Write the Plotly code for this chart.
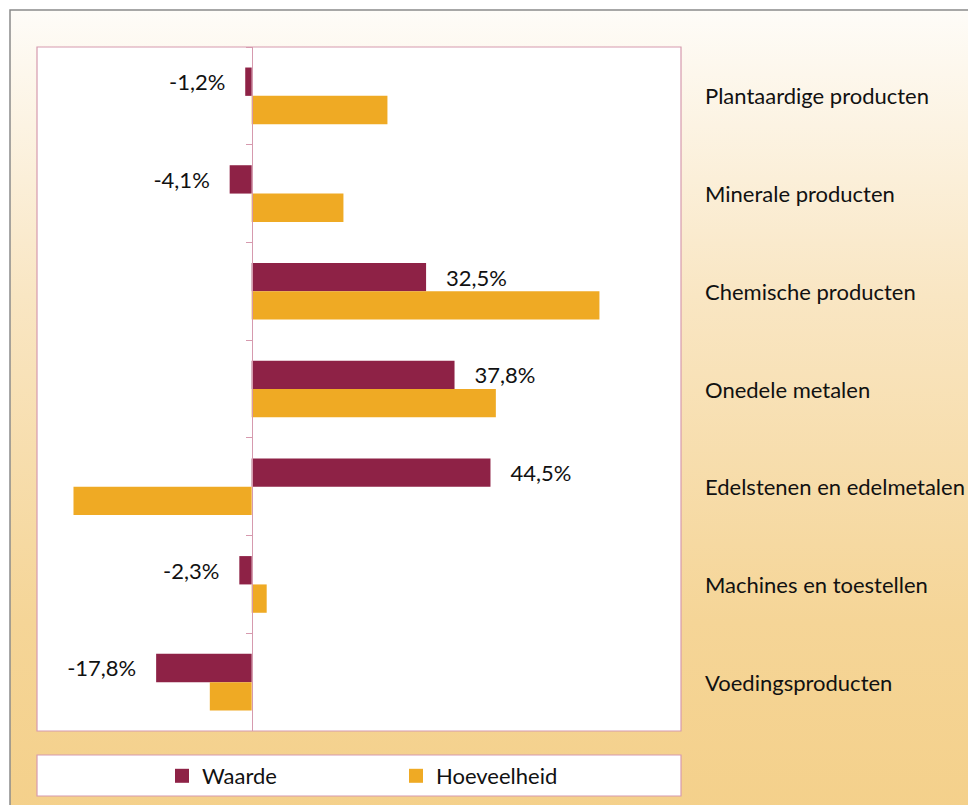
import base64
import plotly.graph_objects as go

categories = [
    "Plantaardige producten",
    "Minerale producten",
    "Chemische producten",
    "Onedele metalen",
    "Edelstenen en edelmetalen",
    "Machines en toestellen",
    "Voedingsproducten",
]
waarde = [-1.2, -4.1, 32.5, 37.8, 44.5, -2.3, -17.8]
hoeveelheid = [25.3, 17.1, 64.8, 45.5, -33.2, 2.8, -7.8]
series_names = ["Waarde", "Hoeveelheid"]

MAROON = "#8e2246"
ORANGE = "#efaa24"
PINK = "#d69aae"
FONT = "Lato"
FS = 22

# page offset (body margin) of the rendered figure
OFF = 8
W, H = 976, 805
# plot area in page pixels: x 37..681, y 47..731
ML = 37 - OFF
MT = 47 - OFF
MR = W - (681 - OFF)
MB = H - (731 - OFF)
PW, PH = W - ML - MR, H - MT - MB


def px_x(x):
    """page pixel x -> paper fraction"""
    return (x - OFF - ML) / PW


def px_y(y):
    """page pixel y -> paper fraction"""
    return (H - MB - (y - OFF)) / PH


pad = "\u00a0" * 3
labels = [(pad + f"{v:.1f}%" if v >= 0 else f"{v:.1f}%" + pad).replace(".", ",") for v in waarde]

fig = go.Figure()
fig.add_trace(go.Bar(
    y=categories, x=waarde, orientation="h", name=series_names[0],
    marker=dict(color=MAROON, line=dict(width=0)),
    text=labels, textposition="outside", cliponaxis=False,
    textfont=dict(family=FONT, size=FS, color="#111"),
    legendgroup="w", showlegend=False,
))
fig.add_trace(go.Bar(
    y=categories, x=hoeveelheid, orientation="h", name=series_names[1],
    marker=dict(color=ORANGE, line=dict(width=0)),
    legendgroup="h", showlegend=False,
))
# legend entries with square swatches matching the bars
for name, color, grp in [(series_names[0], MAROON, "w"), (series_names[1], ORANGE, "h")]:
    fig.add_trace(go.Scatter(
        x=[None], y=[None], mode="markers", name=name, legendgroup=grp,
        marker=dict(symbol="square", size=14, color=color, line=dict(width=0)),
        hoverinfo="skip",
    ))

# background gradient (inside the outer frame)
svg = (
    '<svg xmlns="http://www.w3.org/2000/svg" width="100" height="100" preserveAspectRatio="none">'
    '<defs><linearGradient id="g" x1="0" y1="0" x2="0" y2="1">'
    '<stop offset="0" stop-color="#fefcf8"/>'
    '<stop offset="0.35" stop-color="#f9e6c3"/>'
    '<stop offset="0.75" stop-color="#f5d597"/>'
    '<stop offset="1" stop-color="#f4d08a"/>'
    '</linearGradient></defs>'
    '<rect width="100" height="100" fill="url(#g)"/></svg>'
)
src = "data:image/svg+xml;base64," + base64.b64encode(svg.encode()).decode()
fig.add_layout_image(
    source=src, xref="paper", yref="paper",
    x=px_x(10), y=px_y(10), sizex=(W - 10 + 20) / PW, sizey=(H - 10 + 20) / PH,
    xanchor="left", yanchor="top", sizing="stretch", layer="below", opacity=1,
)

shapes = [
    # outer frame
    dict(type="rect", xref="paper", yref="paper", x0=px_x(10), x1=px_x(W + 40),
         y0=px_y(H + 40), y1=px_y(10), line=dict(color="#8a8a8a", width=1.5),
         fillcolor="rgba(0,0,0,0)", layer="below"),
    # plot area
    dict(type="rect", xref="paper", yref="paper", x0=0, x1=1, y0=0, y1=1,
         line=dict(color=PINK, width=1.2), fillcolor="white", layer="below"),
    # legend box
    dict(type="rect", xref="paper", yref="paper", x0=0, x1=1,
         y0=px_y(796), y1=px_y(755), line=dict(color=PINK, width=1.2),
         fillcolor="white", layer="below"),
]

annotations = [
    dict(text=c, xref="paper", yref="y", x=px_x(703), y=c, xanchor="left",
         yanchor="middle", showarrow=False, font=dict(family=FONT, size=FS, color="#111"))
    for c in categories
]

fig.update_layout(
    width=W, height=H,
    margin=dict(l=ML, r=MR, t=MT, b=MB),
    paper_bgcolor="white",
    plot_bgcolor="rgba(0,0,0,0)",
    barmode="group", bargap=0.42, bargroupgap=0,
    font=dict(family=FONT, size=FS, color="#111"),
    shapes=shapes, annotations=annotations,
    xaxis=dict(range=[-40, 80], visible=False, showgrid=False, zeroline=False),
    yaxis=dict(
        type="category", categoryorder="array", categoryarray=categories,
        range=[len(categories) - 0.5, -0.5],
        anchor="free", position=1 / 3,
        showline=True, linecolor=PINK, linewidth=1.2,
        ticks="outside", tickson="boundaries", ticklen=6, tickcolor=PINK, tickwidth=1.2,
        showticklabels=False, showgrid=False, zeroline=False,
    ),
    showlegend=True,
    legend=dict(
        orientation="h", x=px_x(162), y=px_y(776), xanchor="left", yanchor="middle",
        bgcolor="rgba(0,0,0,0)", borderwidth=0, traceorder="normal",
        itemsizing="trace",
        entrywidth=189, entrywidthmode="pixels",
        font=dict(family=FONT, size=FS, color="#111"),
    ),
)

fig.write_html("out.html")
